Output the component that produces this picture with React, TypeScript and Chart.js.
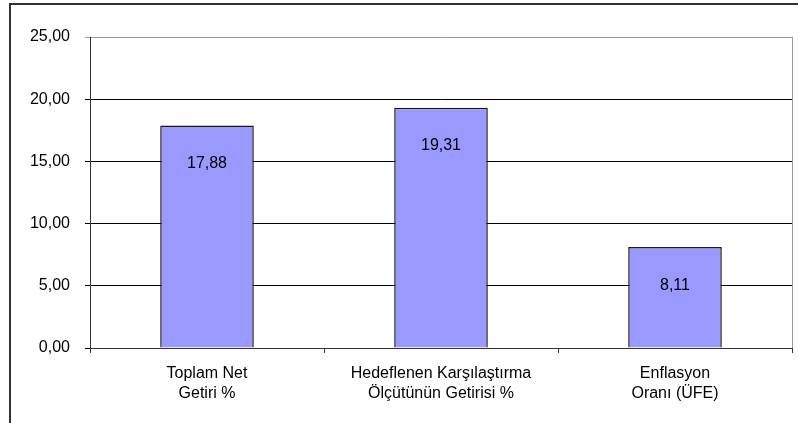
import React, { useEffect, useRef } from "react";
import { Chart, registerables } from "chart.js";

Chart.register(...registerables);

const categories: string[][] = [
  ["Toplam Net", "Getiri %"],
  ["Hedeflenen Karşılaştırma", "Ölçütünün Getirisi %"],
  ["Enflasyon", "Oranı (ÜFE)"],
];
const values: number[] = [17.88, 19.31, 8.11];
const yTicks = { min: 0, max: 25, step: 5 };

const fmt = (v: number) => v.toFixed(2).replace(".", ",");
const FONT = "'Liberation Sans', Arial, sans-serif";

const framePlugin = {
  id: "frame",
  afterDraw(chart: any) {
    const { ctx, chartArea } = chart;
    ctx.save();
    // outer border
    ctx.strokeStyle = "#333333";
    ctx.lineWidth = 2;
    ctx.beginPath();
    ctx.moveTo(10, 423);
    ctx.lineTo(10, 4);
    ctx.lineTo(798, 4);
    ctx.stroke();
    // right plot border
    ctx.strokeStyle = "#999999";
    ctx.lineWidth = 1;
    ctx.beginPath();
    ctx.moveTo(chartArea.right + 0.5, chartArea.top);
    ctx.lineTo(chartArea.right + 0.5, chartArea.bottom);
    ctx.stroke();
    // value labels
    const meta = chart.getDatasetMeta(0);
    ctx.fillStyle = "#000";
    ctx.font = `16px ${FONT}`;
    ctx.textAlign = "center";
    ctx.textBaseline = "middle";
    meta.data.forEach((bar: any, i: number) => {
      ctx.fillText(fmt(values[i]), bar.x, bar.y + 38);
    });
    ctx.restore();
  },
};

export default function App() {
  const ref = useRef<HTMLCanvasElement | null>(null);
  useEffect(() => {
    if (!ref.current) return;
    const chart = new Chart(ref.current, {
      type: "bar",
      data: {
        labels: categories,
        datasets: [
          {
            data: values,
            backgroundColor: "#9999FF",
            borderColor: "#1a1a1a",
            borderWidth: 1.5,
            borderSkipped: "bottom",
            barPercentage: 0.4,
            categoryPercentage: 1,
          },
        ],
      },
      options: {
        responsive: false,
        animation: false,
        devicePixelRatio: 1,
        layout: { padding: { top: 37, right: 6, left: 0, bottom: 0 } },
        plugins: { legend: { display: false }, tooltip: { enabled: false } },
        scales: {
          x: {
            afterFit: (s: any) => {
              s.height = 75;
            },
            grid: {
              drawOnChartArea: false,
              drawTicks: true,
              tickLength: 5,
              color: "#333333",
            },
            border: { color: "#333333", width: 1 },
            ticks: {
              color: "#000",
              font: { family: FONT, size: 16, lineHeight: 1.25 },
              padding: 11,
              maxRotation: 0,
              autoSkip: false,
            },
          },
          y: {
            min: yTicks.min,
            max: yTicks.max,
            afterFit: (s: any) => {
              s.width = 90;
            },
            grid: {
              color: (c: any) => (c.tick && c.tick.value === yTicks.max ? "#999999" : "#000000"),
              tickLength: 5,
            },
            border: { color: "#333333", width: 1 },
            ticks: {
              stepSize: yTicks.step,
              color: "#000",
              font: { family: FONT, size: 16 },
              padding: 15,
              callback: (v: any) => fmt(Number(v)),
            },
          },
        },
      },
      plugins: [framePlugin],
    });
    return () => chart.destroy();
  }, []);
  return (
    <div style={{ position: "absolute", left: 0, top: 0, width: 798, height: 423, background: "#fff" }}>
      <canvas ref={ref} width={798} height={423} style={{ display: "block" }} />
    </div>
  );
}
